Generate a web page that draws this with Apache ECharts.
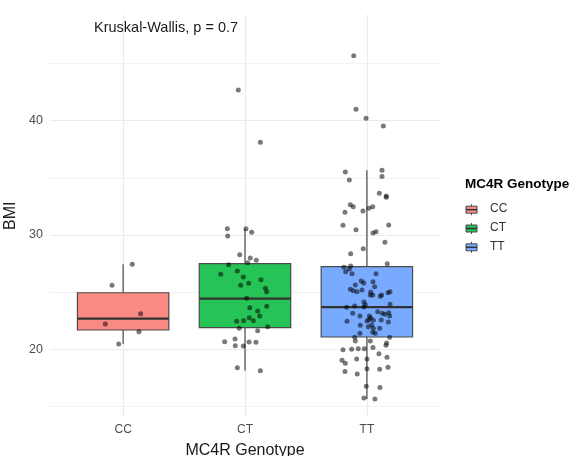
<!DOCTYPE html>
<html><head><meta charset="utf-8">
<script src="https://cdn.jsdelivr.net/npm/echarts@6/dist/echarts.min.js"></script>
<style>html,body{margin:0;padding:0;background:#fff}#c{width:575px;height:456px}</style>
</head><body><div id="c"></div>
<script>
const FONT = '"Liberation Sans", Arial, Helvetica, sans-serif';
const categories = ['CC', 'CT', 'TT'];
const boxColors = ['#F98A83', '#26C456', '#78ABFF'];
// box stats: [lower whisker, Q1, median, Q3, upper whisker]
const ccStats = [20.46, 21.69, 22.68, 24.95, 27.44];
const ctStats = [18.13, 21.89, 24.43, 27.49, 30.55];
const ttStats = [15.66, 21.08, 23.70, 27.23, 35.66];

const ccBMI = [27.44, 25.6, 23.11, 22.21, 21.54, 20.46];
const ccJitter = [0.075, -0.091, 0.144, -0.146, 0.130, -0.036];

const ctBMI = [30.55, 30.55, 30.24, 29.91, 28.28, 27.99, 27.79, 27.58, 27.40, 26.56,
  26.85, 26.33, 26.09, 25.77, 25.60, 25.34, 25.04, 24.46, 23.76, 23.64,
  23.35, 22.91, 22.77, 22.50, 22.50, 22.45, 21.98, 21.84, 21.63, 20.67,
  20.90, 20.32, 20.29, 20.64, 20.61, 18.39, 18.13, 42.69, 38.11];
const ctJitter = [-0.145, 0.008, 0.055, -0.142, -0.043, 0.043, 0.093, 0.022, -0.134, -0.199,
  -0.063, -0.014, 0.131, 0.030, -0.035, 0.167, 0.178, 0.014, 0.178, 0.039,
  0.104, 0.121, 0.035, 0.068, -0.011, -0.068, 0.186, -0.047, 0.104, -0.167,
  -0.082, -0.080, -0.014, 0.033, 0.090, -0.063, 0.126, -0.055, 0.126];

const ttBMI = [45.69, 41.00, 40.21, 39.54, 35.51, 35.66, 34.81, 35.11, 33.65, 33.41,
  33.30, 32.65, 32.48, 32.34, 32.48, 31.99, 32.10, 30.85, 30.47, 30.18,
  30.29, 30.87, 29.36, 28.36, 28.80, 27.49, 27.17, 27.29, 27.03, 26.79,
  26.62, 26.62, 25.98, 25.80, 25.92, 25.63, 25.48, 25.25, 25.13, 25.04,
  25.19, 25.01, 24.75, 24.75, 24.75, 24.64, 24.95, 25.04, 24.14, 23.67,
  23.79, 23.70, 23.90, 23.94, 23.15, 22.91, 22.91, 22.76, 23.29, 23.15,
  23.06, 23.20, 22.91, 22.45, 22.48, 22.59, 22.54, 22.56, 22.39, 22.10,
  21.98, 22.13, 21.84, 21.84, 21.49, 21.40, 21.40, 21.05, 21.05, 20.73,
  20.73, 20.55, 20.35, 19.97, 20.00, 20.05, 20.05, 20.17, 19.61, 19.30,
  19.04, 18.78, 19.15, 19.15, 18.05, 17.84, 18.31, 18.25, 18.43, 16.78,
  16.66, 15.74, 15.66];
const ttJitter = [-0.108, -0.089, -0.007, 0.135, -0.177, 0.124, -0.144, 0.124, 0.102, 0.159,
  0.159, -0.136, -0.112, 0.017, 0.048, -0.180, -0.032, -0.196, -0.089, 0.050,
  0.075, 0.179, 0.148, -0.133, -0.030, 0.167, -0.188, -0.133, -0.144, -0.174,
  -0.122, 0.075, -0.046, -0.026, 0.050, -0.095, 0.064, -0.136, -0.112, -0.081,
  -0.040, 0.031, 0.048, 0.028, 0.121, 0.110, 0.173, 0.190, -0.024, -0.166,
  -0.100, -0.024, -0.013, 0.190, -0.116, -0.057, 0.020, 0.031, 0.089, 0.126,
  0.148, 0.179, 0.187, -0.163, 0.001, 0.017, 0.053, 0.118, 0.176, -0.054,
  0.011, 0.039, 0.053, 0.105, 0.048, 0.069, -0.057, -0.100, 0.187, -0.095,
  0.028, 0.162, 0.157, -0.196, -0.125, -0.071, -0.021, 0.050, 0.099, 0.165,
  -0.204, -0.177, -0.084, 0.001, -0.180, -0.079, 0.001, 0.105, 0.173, -0.005,
  0.107, -0.024, 0.066];

const yTicks = [20, 30, 40];
const yMinorTicks = [15, 25, 35, 45];
const xTicks = [1, 2, 3];
const statText = 'Kruskal-Wallis, p = 0.7';
const xTitle = 'MC4R Genotype';
const yTitle = 'BMI';
const legendTitle = 'MC4R Genotype';

const allStats = [ccStats, ctStats, ttStats];
const allBMI = [ccBMI, ctBMI, ttBMI];
const allJitter = [ccJitter, ctJitter, ttJitter];

const boxData = allStats.map((s, i) => [i + 1].concat(s));
const pointData = [];
allBMI.forEach((arr, i) => arr.forEach((v, j) => pointData.push([i + 1 + allJitter[i][j], v])));

const EDGE = '#4a4a4a';

function renderBox(params, api) {
  const x = api.value(0);
  const lo = api.coord([x, api.value(1)]);
  const q1 = api.coord([x, api.value(2)]);
  const md = api.coord([x, api.value(3)]);
  const q3 = api.coord([x, api.value(4)]);
  const hi = api.coord([x, api.value(5)]);
  const hw = api.size([0.375, 0])[0];
  const color = boxColors[params.dataIndex];
  return {
    type: 'group',
    children: [
      { type: 'line', shape: { x1: lo[0], y1: lo[1], x2: hi[0], y2: hi[1] }, style: { stroke: EDGE, lineWidth: 1.2 } },
      { type: 'rect', shape: { x: q3[0] - hw, y: q3[1], width: 2 * hw, height: q1[1] - q3[1] }, style: { fill: color, stroke: EDGE, lineWidth: 1.2 } },
      { type: 'line', shape: { x1: md[0] - hw, y1: md[1], x2: md[0] + hw, y2: md[1] }, style: { stroke: '#333', lineWidth: 2.2 } }
    ]
  };
}

const gridMarks = []
  .concat(yTicks.map(v => ({ yAxis: v, lineStyle: { color: '#ebebeb', width: 1.2, type: 'solid' } })))
  .concat(yMinorTicks.map(v => ({ yAxis: v, lineStyle: { color: '#f2f2f2', width: 1, type: 'solid' } })))
  .concat(xTicks.map(v => ({ xAxis: v, lineStyle: { color: '#ebebeb', width: 1.2, type: 'solid' } })));

const legendGraphics = [{
  type: 'text', left: 465, top: 177,
  style: { text: legendTitle, font: 'bold 13.5px ' + FONT, fill: '#000' }
}];
categories.forEach((c, i) => {
  const yc = 209.7 + i * 18.8;
  legendGraphics.push(
    { type: 'line', silent: true, shape: { x1: 471.5, y1: yc - 5.5, x2: 471.5, y2: yc + 5.5 }, style: { stroke: EDGE, lineWidth: 1 } },
    { type: 'rect', silent: true, shape: { x: 466, y: yc - 3.5, width: 11, height: 7 }, style: { fill: boxColors[i], stroke: EDGE, lineWidth: 1 } },
    { type: 'line', silent: true, shape: { x1: 466, y1: yc, x2: 477, y2: yc }, style: { stroke: '#333', lineWidth: 1.5 } },
    { type: 'text', left: 490, top: yc - 7, style: { text: c, font: '12px ' + FONT, fill: '#333' } }
  );
});

const chart = echarts.init(document.getElementById('c'), null, { renderer: 'canvas' });
chart.setOption({
  animation: false,
  backgroundColor: '#fff',
  title: {
    text: statText, left: 94, top: 20, padding: 0,
    textStyle: { fontFamily: FONT, fontSize: 14.5, fontWeight: 'normal', color: '#1a1a1a' }
  },
  grid: { left: 50, right: 135, top: 14.6, bottom: 39, containLabel: false, outerBoundsMode: 'none' },
  xAxis: {
    type: 'value', min: 0.4, max: 3.6,
    name: xTitle, nameLocation: 'middle', nameGap: 26,
    nameTextStyle: { fontFamily: FONT, fontSize: 16, color: '#1a1a1a' },
    axisLine: { show: false }, axisTick: { show: false }, splitLine: { show: false },
    axisLabel: {
      customValues: xTicks, margin: 7,
      formatter: v => categories[Math.round(v) - 1] || '',
      fontFamily: FONT, fontSize: 12, color: '#4d4d4d'
    }
  },
  yAxis: {
    type: 'value', min: 14.08, max: 49.28,
    name: yTitle, nameLocation: 'middle', nameGap: 28, nameRotate: 90,
    nameTextStyle: { fontFamily: FONT, fontSize: 16, color: '#1a1a1a' },
    axisLine: { show: false }, axisTick: { show: false }, splitLine: { show: false },
    axisLabel: {
      customValues: yTicks, margin: 7,
      fontFamily: FONT, fontSize: 12.5, color: '#4d4d4d'
    }
  },
  graphic: legendGraphics,
  series: [
    {
      type: 'scatter', data: [], silent: true, z: 0,
      markLine: { silent: true, z: 0, symbol: 'none', label: { show: false }, animation: false, data: gridMarks }
    },
    {
      type: 'custom', renderItem: renderBox, data: boxData, z: 10, silent: true,
      encode: { x: 0, y: [1, 2, 3, 4, 5] }
    },
    {
      type: 'scatter', data: pointData, z: 11, symbolSize: 5, silent: true,
      itemStyle: { color: 'rgba(0,0,0,0.66)' }
    }
  ]
});
</script>
</body></html>
